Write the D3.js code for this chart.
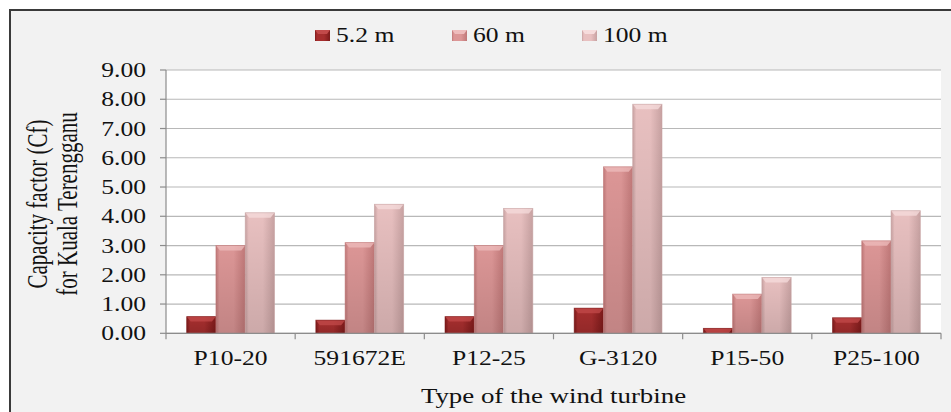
<!DOCTYPE html>
<html><head><meta charset="utf-8">
<script src="https://cdn.jsdelivr.net/npm/d3@7"></script>
<style>
html,body{margin:0;padding:0;background:#fff;}
svg{display:block;font-family:"Liberation Serif","Times New Roman",serif;}
</style></head>
<body>
<svg id="chart" width="951" height="412"></svg>
<script>
const categories = ["P10-20","591672E","P12-25","G-3120","P15-50","P25-100"];
const seriesNames = ["5.2 m","60 m","100 m"];
const values52 = [0.57,0.45,0.57,0.86,0.17,0.53];
const values60 = [3.00,3.10,3.00,5.69,1.34,3.16];
const values100 = [4.12,4.41,4.27,7.83,1.91,4.19];
const yTicks = [0,1,2,3,4,5,6,7,8,9];
const yTitle = ["Capacity factor (Cf)","for Kuala Terengganu"];
const xTitle = "Type of the wind turbine";

const seriesValues = [values52, values60, values100];
const colors = [
  {edge:"#7d1a1a", mid:"#a62e2e", top:"#c24a4a"},
  {edge:"#c07878", mid:"#dc9696", top:"#eebcbc"},
  {edge:"#c8a2a2", mid:"#e8c0c0", top:"#f6dcdc"}
];
const SX = 1.28;

const svg = d3.select("#chart");
const W = 951, H = 412;
const m = {left:166, right:W-941, top:70, bottom:H-333.3};

svg.append("rect").attr("x",10).attr("y",10).attr("width",W+20).attr("height",H+20)
  .attr("fill","#f2f2f2").attr("stroke","#3a3a3a").attr("stroke-width",2);

const x0 = d3.scaleBand().domain(categories).range([m.left, W-m.right])
  .paddingInner(0.32).paddingOuter(0.16);
const x1 = d3.scaleBand().domain(seriesNames).range([0, x0.bandwidth()]);
const y = d3.scaleLinear().domain([0,9]).range([H-m.bottom, m.top]);

svg.append("rect").attr("x",m.left).attr("y",y(9)).attr("width",W-m.right-m.left)
  .attr("height",y(0)-y(9)).attr("fill","#fff");

const defs = svg.append("defs");
colors.forEach((c,i)=>{
  const g = defs.append("linearGradient").attr("id","hg"+i).attr("x1","0").attr("x2","1").attr("y1","0").attr("y2","0");
  g.append("stop").attr("offset","0").attr("stop-color",c.edge);
  g.append("stop").attr("offset","0.12").attr("stop-color",c.mid);
  g.append("stop").attr("offset","0.6").attr("stop-color",c.mid);
  g.append("stop").attr("offset","1").attr("stop-color",c.edge);
});
const vg = defs.append("linearGradient").attr("id","vshade").attr("x1","0").attr("x2","0").attr("y1","0").attr("y2","1");
vg.append("stop").attr("offset","0").attr("stop-color","#000").attr("stop-opacity",0);
vg.append("stop").attr("offset","1").attr("stop-color","#000").attr("stop-opacity",0.12);

svg.append("g").selectAll("line").data(yTicks).join("line")
  .attr("x1",m.left).attr("x2",W-m.right).attr("y1",d=>y(d)).attr("y2",d=>y(d))
  .attr("stroke","#b8b8b8").attr("stroke-width",1.2);

const groups = svg.append("g").selectAll("g").data(categories).join("g")
  .attr("transform",d=>`translate(${x0(d)},0)`);
groups.each(function(cat,ci){
  const g = d3.select(this);
  seriesNames.forEach((s,si)=>{
    const v = seriesValues[si][ci];
    const bx = x1(s), bw = x1.bandwidth(), by = y(v), bh = y(0)-y(v);
    g.append("rect").attr("x",bx).attr("y",by).attr("width",bw).attr("height",bh).attr("fill",`url(#hg${si})`);
    g.append("rect").attr("x",bx).attr("y",by).attr("width",bw).attr("height",bh).attr("fill","url(#vshade)");
    const bev = Math.min(5, bh);
    g.append("polygon").attr("points",
      `${bx},${by} ${bx+bw},${by} ${bx+bw-4},${by+bev} ${bx+4},${by+bev}`)
      .attr("fill",colors[si].top).attr("opacity",0.75);
    g.append("rect").attr("x",bx).attr("y",by).attr("width",bw).attr("height",bh)
      .attr("fill","none").attr("stroke",colors[si].edge).attr("stroke-width",0.8).attr("opacity",0.7);
  });
});

const axisColor = "#8c8c8c";
svg.append("line").attr("x1",m.left).attr("x2",m.left).attr("y1",y(9)).attr("y2",y(0)).attr("stroke",axisColor).attr("stroke-width",1.2);
svg.append("line").attr("x1",m.left).attr("x2",W-m.right).attr("y1",y(0)).attr("y2",y(0)).attr("stroke",axisColor).attr("stroke-width",1.2);
svg.append("g").selectAll("line").data(yTicks).join("line")
  .attr("x1",m.left-6).attr("x2",m.left).attr("y1",d=>y(d)).attr("y2",d=>y(d)).attr("stroke",axisColor).attr("stroke-width",1.2);
const xb = categories.map(c=>x0(c)-x0.step()*0.16).concat([W-m.right]);
svg.append("g").selectAll("line").data(xb).join("line")
  .attr("x1",d=>d).attr("x2",d=>d).attr("y1",y(0)).attr("y2",y(0)+6).attr("stroke",axisColor).attr("stroke-width",1.2);

svg.append("g").selectAll("text").data(yTicks).join("text")
  .attr("transform",d=>`translate(146,${y(d)+7}) scale(${SX},1)`)
  .attr("text-anchor","end").attr("font-size",20).attr("fill","#111")
  .text(d=>d3.format(".2f")(d));

svg.append("g").selectAll("text").data(categories).join("text")
  .attr("transform",d=>`translate(${x0(d)+x0.bandwidth()/2},365) scale(${SX},1)`)
  .attr("text-anchor","middle").attr("font-size",20).attr("fill","#111").text(d=>d);

svg.append("text").attr("transform",`translate(${(m.left+W-m.right)/2},403) scale(${SX},1)`)
  .attr("text-anchor","middle").attr("font-size",21).attr("fill","#111").text(xTitle);

yTitle.forEach((t,i)=>{
  svg.append("text").attr("transform",`translate(${47+i*30},204) rotate(-90) scale(1,1.4)`)
    .attr("text-anchor","middle").attr("font-size",21).attr("fill","#111").text(t);
});

const legX = [315,452,582];
const leg = svg.append("g").selectAll("g").data(seriesNames).join("g")
  .attr("transform",(d,i)=>`translate(${legX[i]},30)`);
leg.append("rect").attr("width",15).attr("height",11).attr("fill",(d,i)=>`url(#hg${i})`);
leg.append("polygon").attr("points","0,0 15,0 12,4 3,4").attr("fill",(d,i)=>colors[i].top);
leg.append("text").attr("transform",`translate(21,12) scale(${SX},1)`)
  .attr("font-size",20).attr("fill","#111").text(d=>d);
</script>
</body></html>
